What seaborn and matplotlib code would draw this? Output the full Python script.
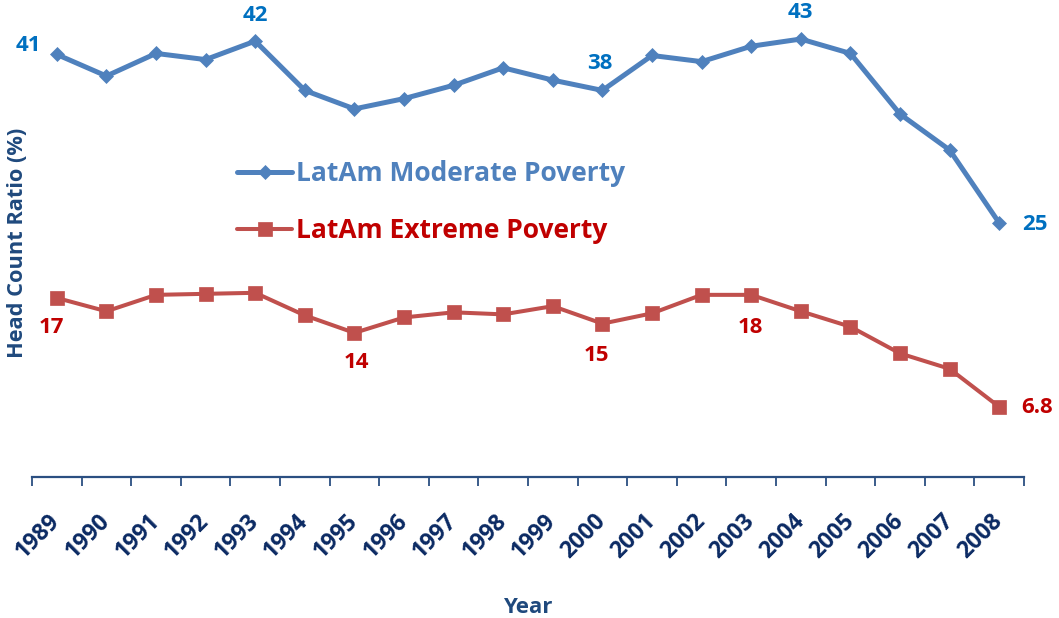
import numpy as np
import pandas as pd
import matplotlib
matplotlib.use("Agg")
import matplotlib.pyplot as plt
import seaborn as sns

# Head count ratios (%) for Latin America, 1989-2008
years = list(range(1989, 2009))
moderate = [41.1, 39.0, 41.2, 40.6, 42.4, 37.6, 35.8, 36.8, 38.1, 39.8,
            38.6, 37.6, 41.0, 40.4, 41.9, 42.6, 41.2, 35.3, 31.8, 24.7]
extreme = [17.4, 16.1, 17.7, 17.8, 17.9, 15.7, 14.0, 15.5, 16.0, 15.8,
           16.6, 14.9, 15.9, 17.7, 17.7, 16.1, 14.6, 12.0, 10.5, 6.8]
series_names = ["LatAm Moderate Poverty", "LatAm Extreme Poverty"]

# years that carry a value label
moderate_labelled = [1989, 1993, 2000, 2004, 2008]
extreme_labelled = [1989, 1995, 2000, 2003, 2008]

df = pd.DataFrame({
    "Year": years * 2,
    "Ratio": moderate + extreme,
    "Series": [series_names[0]] * len(years) + [series_names[1]] * len(years),
})

sns.set_theme(style="white")
plt.rcParams["font.family"] = ["Open Sans", "DejaVu Sans"]
plt.rcParams["font.weight"] = "bold"

W, H = 1059, 618
fig = plt.figure(figsize=(W / 100, H / 100), dpi=100)
axis_y = 476.7
ax = fig.add_axes([32 / W, 1 - axis_y / H, 992 / W, axis_y / H])

blue, red = "#4F81BD", "#C0504D"
blue_txt, red_txt = "#0070C0", "#C00000"
navy = "#0B2A63"
axis_col = "#2B4F81"

sns.lineplot(data=df[df.Series == series_names[0]], x="Year", y="Ratio",
             color=blue, linewidth=3.6, marker="D", markersize=7.5,
             markeredgecolor=blue, markeredgewidth=0.5,
             label=series_names[0], ax=ax)
sns.lineplot(data=df[df.Series == series_names[1]], x="Year", y="Ratio",
             color=red, linewidth=2.9, marker="s", markersize=9.5,
             markeredgecolor=red, markeredgewidth=0.5,
             label=series_names[1], ax=ax)

ax.set_xlim(1988.5, 2008.5)
ax.set_ylim(0, 46.4)

# value labels
mod_offsets = {1989: (-28, 9), 1993: (0, 26), 2000: (-3, 27), 2004: (0, 27), 2008: (36, -2)}
ext_offsets = {1989: (-5, -30), 1995: (2, -30), 2000: (-6, -32), 2003: (-1, -33), 2008: (38, -1)}


def fmt(v):
    return f"{v:.0f}" if v >= 10 else f"{v:.1f}"


for yr in moderate_labelled:
    v = moderate[years.index(yr)]
    ax.annotate(fmt(v), (yr, v), xytext=mod_offsets[yr], textcoords="offset pixels",
                ha="center", va="center", color=blue_txt, fontsize=16,
                fontweight="bold", annotation_clip=False)
for yr in extreme_labelled:
    v = extreme[years.index(yr)]
    ax.annotate(fmt(v), (yr, v), xytext=ext_offsets[yr], textcoords="offset pixels",
                ha="center", va="center", color=red_txt, fontsize=16,
                fontweight="bold", annotation_clip=False)

# axes styling
for side in ["left", "top", "right"]:
    ax.spines[side].set_visible(False)
ax.spines["bottom"].set_color(axis_col)
ax.spines["bottom"].set_linewidth(1.6)
ax.set_yticks([])
ax.set_xticks(np.arange(1988.5, 2009.0, 1.0))
ax.set_xticklabels([])
ax.set_xticks(years, minor=True)
ax.set_xticklabels([str(y) for y in years], minor=True)
ax.tick_params(axis="x", which="major", length=6.5, width=1.3, color=axis_col,
               direction="out", bottom=True)
ax.tick_params(axis="x", which="minor", length=0, pad=29.5, labelsize=16.5,
               labelcolor=navy, bottom=True)
for lbl in ax.get_xticklabels(minor=True):
    lbl.set_rotation(45)
    lbl.set_ha("right")
    lbl.set_va("center")
    lbl.set_rotation_mode("anchor")
    lbl.set_fontweight("bold")

ax.set_xlabel("Year", fontsize=16, fontweight="bold", color="#1F497D")
ax.xaxis.set_label_coords((528 - 32) / 992, (axis_y - 597) / axis_y)
ax.set_ylabel("Head Count Ratio (%)", fontsize=15.7, fontweight="bold", color="#1F497D")
ax.yaxis.set_label_coords((28 - 32) / 992, (axis_y - 243) / axis_y)

leg = ax.legend(loc="upper left", bbox_to_anchor=(237 / W, 1 - 160 / H),
                bbox_transform=fig.transFigure, frameon=False, fontsize=19,
                borderpad=0, borderaxespad=0, handlelength=2.1,
                handletextpad=0.15, labelspacing=1.15,
                labelcolor=[blue, red_txt])
for t in leg.get_texts():
    t.set_fontweight("bold")

fig.savefig("out.png", dpi=100)
